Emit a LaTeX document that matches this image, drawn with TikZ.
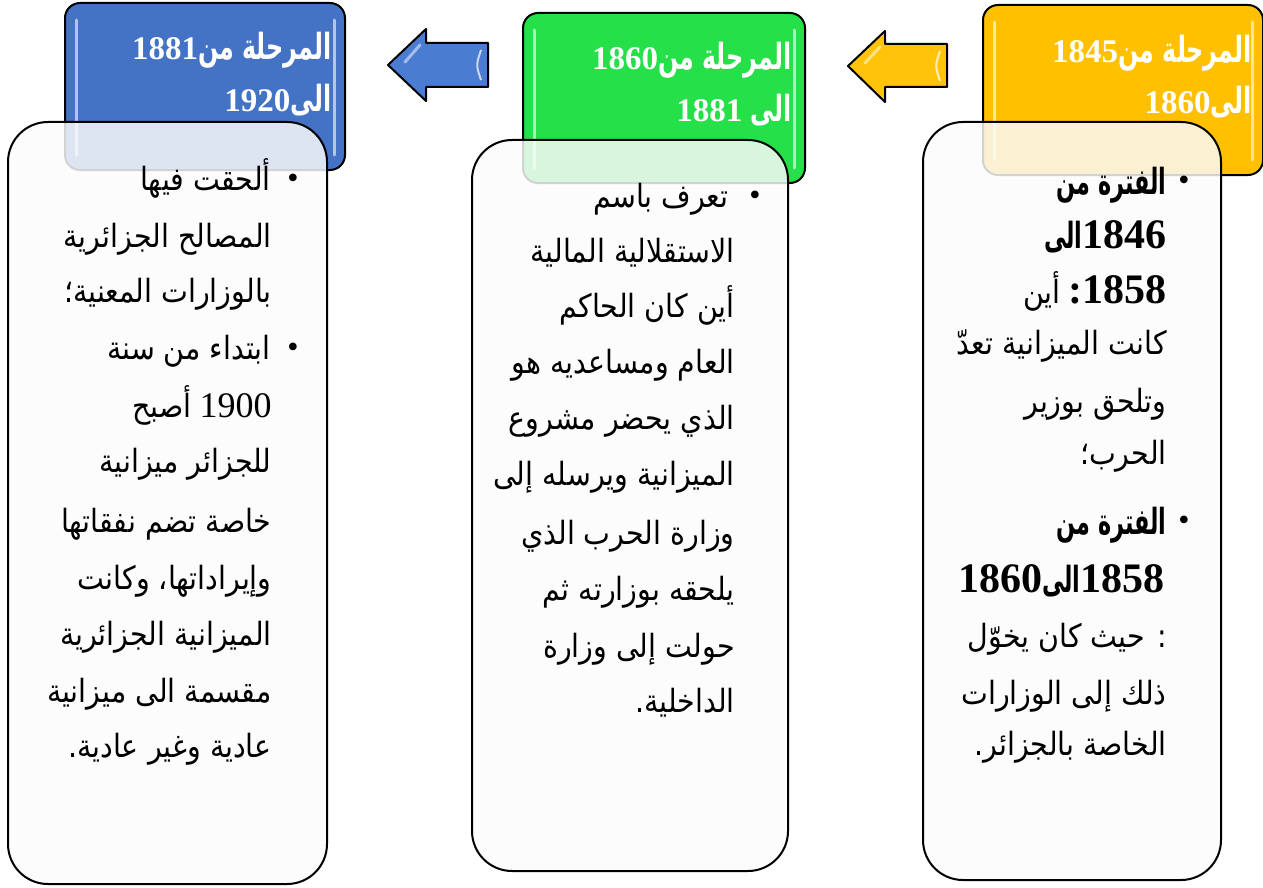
\documentclass[tikz,border=0pt]{standalone}
\usepackage{fontspec}
\setmainfont{Liberation Serif}
\newfontfamily\arR[Script=Arabic,FakeStretch=0.89]{DejaVu Sans}
\newfontfamily\arB[Script=Arabic,FakeStretch=0.62]{DejaVu Sans Bold}
\newfontfamily\arH[Script=Arabic,FakeStretch=0.66]{DejaVu Sans Bold}
\newfontfamily\numfont{Liberation Serif}
\TeXXeTstate=1
\newcommand\AR[1]{{\arR\beginR #1\endR}}
\newcommand\ARB[1]{{\arB\fontsize{18}{18}\selectfont\beginR #1\endR}}
\newcommand\ARH[1]{{\arH\fontsize{18}{20}\selectfont\beginR #1\endR}}
\newcommand\NM[1]{{\numfont #1}}
\newcommand\NMB[1]{{\numfont\bfseries\fontsize{21}{22}\selectfont #1}}
\definecolor{hblue}{RGB}{68,114,196}
\definecolor{hgreen}{RGB}{38,224,74}
\definecolor{hyellow}{RGB}{255,192,0}
\definecolor{ablue}{RGB}{74,124,210}
\definecolor{ayellow}{RGB}{255,196,10}
\definecolor{cardfill}{RGB}{251,251,251}
\tikzset{
  head/.style={draw=black, line width=1pt, rounded corners=7.5pt},
  card/.style={draw=black, line width=1pt, rounded corners=20pt, fill=cardfill, fill opacity=0.84},
  gloss/.style={white, opacity=0.6, line width=1.5pt, line cap=round},
  blockarrow/.style={draw=black, line width=1pt, line join=round},
  body/.style={anchor=base east, inner sep=0pt, font=\fontsize{16}{18}\selectfont},
  bodyb/.style={body},
  bull/.style={anchor=base, inner sep=0pt, font=\fontsize{16}{18}\selectfont},
  htext/.style={anchor=base east, inner sep=0pt, text=white, font=\bfseries\fontsize{16.5}{20}\selectfont},
}
\begin{document}
\begin{tikzpicture}[x=0.5pt, y=-0.5pt]
\useasboundingbox (0,0) rectangle (1263,888);
% headers
\draw[head, fill=hblue] (65,3) rectangle (345,170);
\draw[gloss] (76,20) -- (76,155); \draw[gloss] (334,20) -- (334,155);
\draw[head, fill=hgreen] (523,13) rectangle (805,183);
\draw[gloss] (534,30) -- (534,168); \draw[gloss] (794,30) -- (794,168);
\draw[head, fill=hyellow] (983,5) rectangle (1263,175);
\draw[gloss] (994,22) -- (994,160); \draw[gloss] (1252,22) -- (1252,160);
% arrows
\draw[blockarrow, fill=ablue] (388,65) -- (426,29) -- (426,43) -- (488,43) -- (488,87) -- (426,87) -- (426,101) -- cycle;
\draw[white, opacity=0.7, line width=1pt] (481,50) .. controls (476,65) .. (481,80);
\draw[white, opacity=0.5, line width=1.5pt, line cap=round] (405,62) -- (420,45);
\draw[blockarrow, fill=ayellow] (848,66) -- (885,31) -- (885,44) -- (947,44) -- (947,87) -- (885,87) -- (885,102) -- cycle;
\draw[white, opacity=0.7, line width=1pt] (940,51) .. controls (935,66) .. (940,81);
\draw[white, opacity=0.5, line width=1.5pt, line cap=round] (865,63) -- (880,47);
% header texts
\node[htext] (b1) at (332,60) {\NM{1881}\ARH{المرحلة من}};
\node[htext] (b2) at (332,112) {\NM{1920}\ARH{الى}};
\node[htext] (g1) at (792,70) {\NM{1860}\ARH{المرحلة من}};
\node[htext] (g2) at (792,122) {\NM{1881} \ARH{الى}};
\node[htext] (y1) at (1252,63) {\NM{1845}\ARH{المرحلة من}};
\node[htext] (y2) at (1252,113) {\NM{1860}\ARH{الى}};
% cards
\draw[card] (8,122) rectangle (327,884);
\draw[card] (472,140) rectangle (788,871);
\draw[card] (923,122) rectangle (1221,880);
% right card
\node[bull] (rb1) at (1184,190) {•};
\node[bodyb] (r1) at (1167,194) {\ARB{الفترة من}};
\node[bodyb] (r2) at (1167,248) {\ARB{الى}\NMB{1846}};
\node[body] (r3) at (1167,303) {\AR{أين} \NMB{:1858}};
\node[body] (r4) at (1167,354) {\AR{كانت الميزانية تعدّ}};
\node[body] (r5) at (1167,412) {\AR{وتلحق بوزير}};
\node[body] (r6) at (1167,464) {\AR{الحرب؛}};
\node[bull] (rb2) at (1184,530) {•};
\node[bodyb] (r7) at (1167,534) {\ARB{الفترة من}};
\node[bodyb] (r8) at (1165,592) {\NMB{1860}\ARB{الى}\NMB{1858}};
\node[body] (r9) at (1167,647) {\AR{: حيث كان يخوّل}};
\node[body] (r10) at (1167,704) {\AR{ذلك إلى الوزارات}};
\node[body] (r11) at (1167,755) {\AR{الخاصة بالجزائر.}};
% middle card
\node[bull] (mb1) at (755,205) {•};
\node[body] (m1) at (729,207) {\AR{تعرف باسم}};
\node[body] (m2) at (735,262) {\AR{الاستقلالية المالية}};
\node[body] (m3) at (735,317) {\AR{أين كان الحاكم}};
\node[body] (m4) at (735,373) {\AR{العام ومساعديه هو}};
\node[body] (m5) at (735,429) {\AR{الذي يحضر مشروع}};
\node[body] (m6) at (735,485) {\AR{الميزانية ويرسله إلى}};
\node[body] (m7) at (735,544) {\AR{وزارة الحرب الذي}};
\node[body] (m8) at (735,600) {\AR{يلحقه بوزارته ثم}};
\node[body] (m9) at (735,657) {\AR{حولت إلى وزارة}};
\node[body] (m10) at (735,712) {\AR{الداخلية.}};
% left card
\node[bull] (lb1) at (293,188) {•};
\node[body] (l1) at (271,190) {\AR{ألحقت فيها}};
\node[body] (l2) at (272,247) {\AR{المصالح الجزائرية}};
\node[body] (l3) at (272,302) {\AR{بالوزارات المعنية؛}};
\node[bull] (lb2) at (293,357) {•};
\node[body] (l4) at (271,359) {\AR{ابتداء من سنة}};
\node[body] (l5) at (272,417) {\AR{أصبح} {\fontsize{18}{18}\selectfont\NM{1900}}};
\node[body] (l6) at (272,472) {\AR{للجزائر ميزانية}};
\node[body] (l7) at (272,532) {\AR{خاصة تضم نفقاتها}};
\node[body] (l8) at (272,589) {\AR{وإيراداتها، وكانت}};
\node[body] (l9) at (272,645) {\AR{الميزانية الجزائرية}};
\node[body] (l10) at (272,702) {\AR{مقسمة الى ميزانية}};
\node[body] (l11) at (272,757) {\AR{عادية وغير عادية.}};
\end{tikzpicture}
\end{document}
